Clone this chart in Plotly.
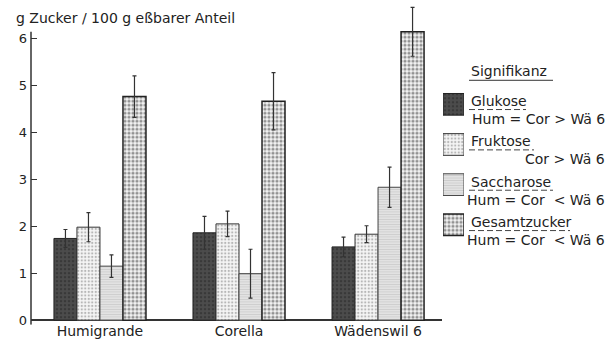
import plotly.graph_objects as go

W, H = 607, 345

def px(x):
    return x / W

def py(y):
    return 1 - y / H

categories = ["Humigrande", "Corella", "Wädenswil 6"]
series = ["Glukose", "Fruktose", "Saccharose", "Gesamtzucker"]
glukose = [1.74, 1.86, 1.56]
glukose_err = [0.19, 0.35, 0.21]
fruktose = [1.98, 2.05, 1.83]
fruktose_err = [0.31, 0.27, 0.18]
saccharose = [1.15, 0.99, 2.83]
saccharose_err = [0.24, 0.52, 0.43]
gesamt = [4.76, 4.66, 6.14]
gesamt_err = [0.44, 0.61, 0.52]
signif = ["Hum = Cor > Wä 6", "Cor > Wä 6", "Hum = Cor  < Wä 6", "Hum = Cor  < Wä 6"]
yticks = [0, 1, 2, 3, 4, 5, 6]
y_axis_top = 6.14

values = [glukose, fruktose, saccharose, gesamt]
errors = [glukose_err, fruktose_err, saccharose_err, gesamt_err]

styles = [
    dict(color="#444444", pattern=dict(shape=".", fgcolor="#262626", bgcolor="#4c4c4c", size=4, solidity=0.3),
         line=dict(color="#222222", width=1)),
    dict(color="#f2f2f2", pattern=dict(shape=".", fgcolor="#7a7a7a", bgcolor="#f5f5f5", size=3.5, solidity=0.33),
         line=dict(color="#333333", width=1)),
    dict(color="#e2e2e2", pattern=dict(shape="-", fgcolor="#b4b4b4", bgcolor="#e6e6e6", size=2.5, solidity=0.45),
         line=dict(color="#444444", width=1)),
    dict(color="#eeeeee", pattern=dict(shape=".", fgcolor="#333333", bgcolor="#f2f2f2", size=4, solidity=0.5),
         line=dict(color="#222222", width=1.5)),
]

FONT = "DejaVu Sans"
FS = 14
fig = go.Figure()

for name, vals, errs, st in zip(series, values, errors, styles):
    fig.add_trace(go.Bar(
        x=categories, y=vals, name=name, marker=st,
        error_y=dict(type="data", array=errs, visible=True, color="#333333", thickness=1.2, width=2),
        cliponaxis=False, showlegend=False,
    ))

# legend swatches on a small auxiliary axis
for i, (name, st) in enumerate(zip(series, styles)):
    fig.add_trace(go.Bar(
        x=[1], y=[i], orientation="h", width=0.54, marker=st, offsetgroup="sw",
        xaxis="x2", yaxis="y2", showlegend=False, hoverinfo="skip",
    ))

annotations = [
    dict(text="g Zucker / 100 g eßbarer Anteil", x=px(14), y=py(18), xanchor="left", yanchor="middle",
         font=dict(size=FS, color="#222")),
    dict(text="Signifikanz", x=px(469), y=py(72), xanchor="left", yanchor="middle",
         font=dict(size=FS, color="#222")),
]
shapes = [
    dict(type="line", xref="paper", yref="paper", x0=px(469), x1=px(553), y0=py(81), y1=py(81),
         line=dict(color="#333", width=1)),
    # y axis line (ends at the top tick region like the original)
    dict(type="line", xref="x domain", yref="y", x0=0, x1=0, y0=-0.1, y1=y_axis_top,
         line=dict(color="#333", width=1.5)),
]

name_w = [57, 65, 84, 101]
for i, name in enumerate(series):
    yc = 102 + 40.7 * i
    annotations.append(dict(text=name, x=px(469), y=py(yc), xanchor="left", yanchor="middle",
                            font=dict(size=FS, color="#222")))
    annotations.append(dict(text=signif[i], x=px(607), y=py(yc + 18), xanchor="right", yanchor="middle",
                            font=dict(size=FS, color="#222")))
    shapes.append(dict(type="line", xref="paper", yref="paper", x0=px(469), x1=px(469 + name_w[i]),
                       y0=py(yc + 8.5), y1=py(yc + 8.5), line=dict(color="#444", width=1, dash="6px,3px")))

for a in annotations:
    a.update(xref="paper", yref="paper", showarrow=False)

fig.update_layout(
    width=W, height=H,
    margin=dict(l=0, r=0, t=0, b=0),
    paper_bgcolor="white", plot_bgcolor="white",
    font=dict(family=FONT, size=FS, color="#222"),
    barmode="group", bargap=0.338, bargroupgap=0,
    xaxis=dict(domain=[px(31), px(442)], type="category", range=[-0.496, 2.46],
               showline=False, ticks="", showgrid=False, zeroline=False,
               tickfont=dict(size=14), ticklabelstandoff=-4),
    yaxis=dict(domain=[py(327.7), py(3.2)], range=[-0.1, 6.75], tickvals=yticks,
               showline=False, ticks="inside", ticklen=6,
               tickcolor="#333", tickwidth=1.2, showgrid=False,
               zeroline=True, zerolinecolor="#333", zerolinewidth=1.5,
               ticklabelstandoff=3, tickfont=dict(size=13)),
    xaxis2=dict(domain=[px(443), px(464)], range=[0, 1], visible=False, anchor="y2", fixedrange=True),
    yaxis2=dict(domain=[py(247), py(85)], range=[3.5, -0.5], visible=False, anchor="x2", fixedrange=True),
    annotations=annotations,
    shapes=shapes,
)

fig.write_html("out.html")
